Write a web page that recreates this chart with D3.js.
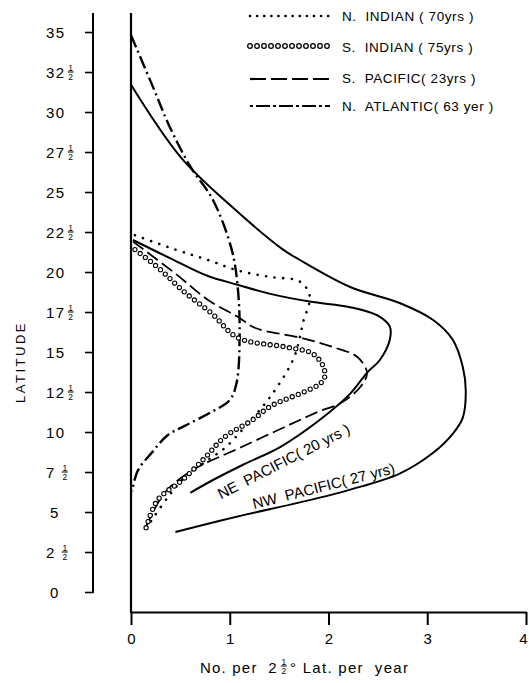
<!DOCTYPE html>
<html><head><meta charset="utf-8">
<script src="https://cdn.jsdelivr.net/npm/d3@7"></script>
<style>
body{margin:0;background:#fff}
text{font-family:"Liberation Sans",Arial,Helvetica,sans-serif;fill:#000;white-space:pre}
</style>
</head><body>
<svg id="chart" width="529" height="683"></svg>
<script>
// ---- data: [number per 2.5° lat per year, latitude] ----
const nwPacific = [[0,31.7],[0.5,27.2],[1.0,24.2],[1.54,21.4],[1.71,20.75],[2.22,19.06],[2.72,18.06],[3.06,17.0],[3.26,15.75],[3.36,14.06],[3.39,12.6],[3.36,10.9],[3.26,9.9],[3.06,8.7],[2.72,7.4],[2.22,6.4],[1.71,5.6],[1.17,4.85],[0.8,4.3],[0.45,3.75]];
const nePacific = [[0.02,22.0],[0.45,20.7],[0.78,19.75],[1.08,19.2],[1.4,18.65],[1.81,18.15],[2.22,17.8],[2.49,17.3],[2.62,16.6],[2.62,15.75],[2.52,14.5],[2.39,13.7],[2.22,12.4],[1.91,10.75],[1.51,9.06],[1.15,8.0],[0.83,7.0],[0.6,6.2]];
const nIndian = [[0.04,22.3],[0.45,21.4],[0.78,20.75],[1.08,20.1],[1.4,19.7],[1.71,19.4],[1.81,18.5],[1.74,16.8],[1.71,15.9],[1.64,14.5],[1.41,12.2],[1.15,10.3],[0.95,9.0],[0.78,8.25],[0.55,7.2],[0.37,5.9],[0.2,4.4]];
const sIndian = [[0.04,21.4],[0.27,20.3],[0.55,18.7],[0.82,17.4],[1.08,15.9],[1.58,15.3],[1.84,14.9],[1.95,14.06],[1.96,13.4],[1.91,13.0],[1.75,12.5],[1.41,11.6],[1.23,10.75],[0.95,9.7],[0.75,8.4],[0.52,7.0],[0.27,5.75],[0.14,3.75]];
const sPacific = [[0.02,21.9],[0.45,19.9],[0.78,18.25],[1.08,17.2],[1.26,16.5],[1.71,15.9],[2.05,15.3],[2.29,14.7],[2.39,13.7],[2.32,12.8],[2.12,11.8],[1.91,11.3],[1.71,10.75],[1.12,9.06],[0.62,7.6],[0.34,6.2],[0.14,3.9]];
const nAtlantic = [[0,34.8],[0.22,31.6],[0.39,29.1],[0.6,26.6],[0.83,24.5],[1.02,21.4],[1.08,19.1],[1.1,16.2],[1.07,13.1],[1.0,12.0],[0.8,11.2],[0.55,10.4],[0.37,9.8],[0.21,8.7],[0.07,7.6],[0.01,6.3]];

const latTicks = [0,2.5,5,7.5,10,12.5,15,17.5,20,22.5,25,27.5,30,32.5,35];
const latTickLabels = ["0","2 1/2","5","7 1/2","10","12 1/2","15","17 1/2","20","22 1/2","25","27 1/2","30","32 1/2","35"];
const xTicks = [0,1,2,3,4];
const xTickLabels = ["0","1","2","3","4"];
const legendNames = ["N.  INDIAN ( 70yrs )","S.  INDIAN ( 75yrs )","S.  PACIFIC( 23yrs )","N.  ATLANTIC( 63 yer )"];
const curveLabels = ["NE  PACIFIC( 20 yrs )","NW  PACIFIC( 27 yrs)"];

// ---- drawing ----
const svg = d3.select("#chart");
const x = d3.scaleLinear().domain([0,4]).range([131,526]);
const y = d3.scaleLinear().domain([0,35]).range([592,32]);

// x axis
const xAxis = svg.append("g").attr("transform","translate(0,612)")
  .call(d3.axisBottom(x).tickValues(xTicks).tickFormat((d,i)=>xTickLabels[i]).tickSize(13).tickSizeOuter(0).tickPadding(8));
xAxis.select(".domain").attr("stroke-width",2);
xAxis.selectAll(".tick line").attr("stroke-width",2);
xAxis.selectAll(".tick text").attr("font-size",15).attr("font-family","Liberation Sans, Arial, sans-serif")
  .attr("dx",(d,i)=> i===xTicks.length-1 ? -3 : 0);

// left border of plot
svg.append("line").attr("x1",x(0)).attr("x2",x(0)).attr("y1",13).attr("y2",613)
  .attr("stroke","#000").attr("stroke-width",2.2);

// latitude axis
const yAxisX = 93;
const yAxis = svg.append("g").attr("transform",`translate(${yAxisX},0)`)
  .call(d3.axisLeft(y).tickValues(latTicks).tickFormat("").tickSize(8).tickSizeOuter(0));
yAxis.select(".domain").remove();
yAxis.selectAll(".tick line").attr("stroke-width",1.6);
svg.append("line").attr("x1",yAxisX).attr("x2",yAxisX).attr("y1",13).attr("y2",y(0)+1)
  .attr("stroke","#000").attr("stroke-width",2);

function frac(g, cx, ymid, fs) {
  g.append("text").attr("x",cx).attr("y",ymid-1.5).attr("text-anchor","middle").attr("font-size",fs).text("1");
  g.append("line").attr("x1",cx-3).attr("x2",cx+3).attr("y1",ymid).attr("y2",ymid).attr("stroke","#000").attr("stroke-width",1);
  g.append("text").attr("x",cx).attr("y",ymid+fs-0.5).attr("text-anchor","middle").attr("font-size",fs).text("2");
}

const labG = svg.append("g");
latTicks.forEach((v,i)=>{
  const parts = latTickLabels[i].split(" ");
  const ty = y(v);
  const whole = parts[0];
  const x0 = (whole.length===1 && parts.length===1) ? 50 : 46;
  const t = labG.append("text").attr("x",x0).attr("y",ty+5.5).attr("font-size",15).attr("letter-spacing",1.5).text(whole);
  if (parts.length>1) {
    const w = t.node().getComputedTextLength();
    frac(labG, x0+w+ (whole.length===1?9:5), ty, 8.5);
  }
});

svg.append("text").attr("transform","translate(25,362) rotate(-90)").attr("text-anchor","middle")
  .attr("font-size",13).attr("letter-spacing",2.5).text("LATITUDE");

// x axis title
const tg = svg.append("g");
const t1 = tg.append("text").attr("x",200).attr("y",673).attr("font-size",15).attr("letter-spacing",1.2).text("No. per  2");
const w1 = t1.node().getComputedTextLength();
frac(tg, 200 + w1 + 6, 666, 8.5);
tg.append("text").attr("x",200 + w1 + 12).attr("y",673).attr("font-size",15).attr("letter-spacing",1.3).text("° Lat. per  year");

// curves
const line = d3.line().x(d=>x(d[0])).y(d=>y(d[1])).curve(d3.curveCatmullRom.alpha(0.5));
const cg = svg.append("g").attr("fill","none").attr("stroke","#000");
cg.append("path").attr("d",line(nwPacific)).attr("stroke-width",2);
cg.append("path").attr("d",line(nePacific)).attr("stroke-width",2);
cg.append("path").attr("d",line(nIndian)).attr("stroke-width",2.6).attr("stroke-linecap","round").attr("stroke-dasharray","0.1,8.5");
cg.append("path").attr("d",line(sPacific)).attr("stroke-width",1.8).attr("stroke-dasharray","13,5");
cg.append("path").attr("d",line(nAtlantic)).attr("stroke-width",2.4).attr("stroke-dasharray","13,4,2,4");
const sIndPath = cg.append("path").attr("d",line(sIndian)).attr("stroke","none");

function circlesAlong(node, spacing, r) {
  const L = node.getTotalLength();
  for (let s=0; s<=L; s+=spacing) {
    const p = node.getPointAtLength(s);
    cg.append("circle").attr("cx",p.x).attr("cy",p.y).attr("r",r).attr("stroke-width",1.1).attr("fill","#fff");
  }
}
circlesAlong(sIndPath.node(), 6.5, 2.1);

// curve labels
svg.append("text").attr("transform","translate(286,466) rotate(-27.2)").attr("text-anchor","middle")
  .attr("font-size",15).text(curveLabels[0]);
svg.append("text").attr("transform","translate(325,491) rotate(-14.3)").attr("text-anchor","middle")
  .attr("font-size",15).text(curveLabels[1]);

// legend
const lg = svg.append("g");
const rowsLine = [16,46,79,106];
const rowsText = [21,52,83,111];
const lx1 = 250, lx2 = 330;
lg.append("line").attr("x1",lx1).attr("x2",lx2).attr("y1",rowsLine[0]).attr("y2",rowsLine[0])
  .attr("stroke","#000").attr("stroke-width",2.6).attr("stroke-linecap","round").attr("stroke-dasharray","0.1,7");
for (let xx=lx1; xx<=lx2; xx+=7) {
  lg.append("circle").attr("cx",xx).attr("cy",rowsLine[1]).attr("r",2.3).attr("fill","none").attr("stroke","#000").attr("stroke-width",1.3);
}
lg.append("line").attr("x1",lx1).attr("x2",lx2).attr("y1",rowsLine[2]).attr("y2",rowsLine[2])
  .attr("stroke","#000").attr("stroke-width",2.2).attr("stroke-dasharray","16,5");
lg.append("line").attr("x1",lx1).attr("x2",lx2).attr("y1",rowsLine[3]).attr("y2",rowsLine[3])
  .attr("stroke","#000").attr("stroke-width",2).attr("stroke-dasharray","3,3,14,3");
legendNames.forEach((n,i)=>{
  lg.append("text").attr("x",342).attr("y",rowsText[i]).attr("font-size",13.5).attr("letter-spacing",0.6).text(n);
});
</script>
</body></html>
